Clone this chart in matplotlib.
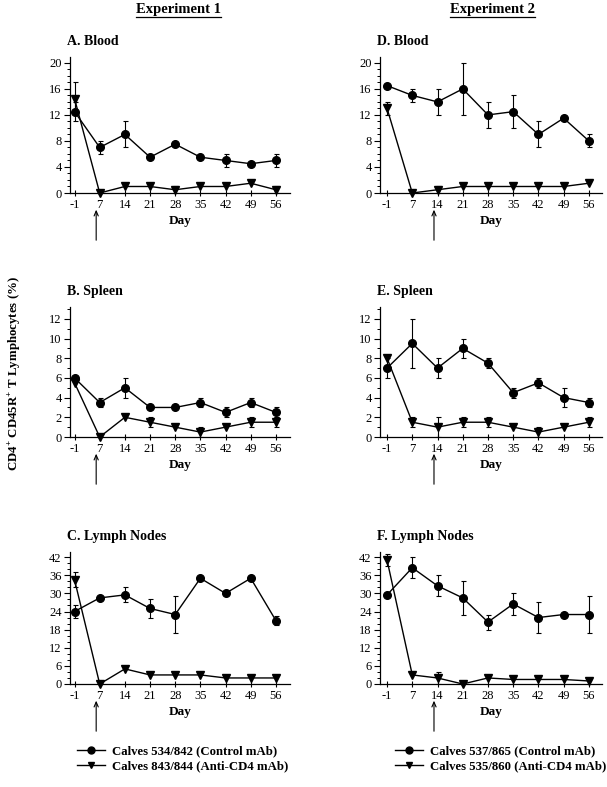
import numpy as np
import matplotlib
matplotlib.use('Agg')
import matplotlib.pyplot as plt
from matplotlib.lines import Line2D
from matplotlib.ticker import MultipleLocator
from matplotlib import transforms

plt.rcParams['font.family'] = ['Liberation Serif', 'DejaVu Serif']
plt.rcParams['mathtext.fontset'] = 'custom'
plt.rcParams['mathtext.rm'] = 'Liberation Serif:bold'
plt.rcParams['mathtext.bf'] = 'Liberation Serif:bold'

days = ['-1', '7', '14', '21', '28', '35', '42', '49', '56']

# Experiment 1 - blood
blood1_ctrl = [12.5, 7, 9, 5.5, 7.5, 5.5, 5, 4.5, 5]
blood1_ctrl_err = [1.5, 1, 2, 0, 0, 0, 1, 0, 1]
blood1_cd4 = [14.5, 0, 1, 1, 0.5, 1, 1, 1.5, 0.5]
blood1_cd4_err = [2.5, 0, 0, 0, 0.5, 0, 0, 0, 0.5]
# Experiment 1 - spleen
spleen1_ctrl = [6, 3.5, 5, 3, 3, 3.5, 2.5, 3.5, 2.5]
spleen1_ctrl_err = [0, 0.5, 1, 0, 0, 0.5, 0.5, 0.5, 0.5]
spleen1_cd4 = [5.5, 0, 2, 1.5, 1, 0.5, 1, 1.5, 1.5]
spleen1_cd4_err = [0, 0, 0, 0.5, 0, 0.5, 0, 0.5, 0.5]
# Experiment 1 - lymph nodes
lymph1_ctrl = [24, 28.5, 29.5, 25, 23, 35, 30, 35, 21]
lymph1_ctrl_err = [2, 0, 2.5, 3, 6, 0, 0, 0, 1.5]
lymph1_cd4 = [34.5, 0, 5, 3, 3, 3, 2, 2, 2]
lymph1_cd4_err = [2.5, 0, 0, 0, 0, 0, 0, 0, 0]

# Experiment 2 - blood
blood2_ctrl = [16.5, 15, 14, 16, 12, 12.5, 9, 11.5, 8]
blood2_ctrl_err = [0, 1, 2, 4, 2, 2.5, 2, 0, 1]
blood2_cd4 = [13, 0, 0.5, 1, 1, 1, 1, 1, 1.5]
blood2_cd4_err = [1, 0, 0.5, 0, 0, 0, 0, 0, 0]
# Experiment 2 - spleen
spleen2_ctrl = [7, 9.5, 7, 9, 7.5, 4.5, 5.5, 4, 3.5]
spleen2_ctrl_err = [1, 2.5, 1, 1, 0.5, 0.5, 0.5, 1, 0.5]
spleen2_cd4 = [8, 1.5, 1, 1.5, 1.5, 1, 0.5, 1, 1.5]
spleen2_cd4_err = [0, 0.5, 1, 0.5, 0.5, 0, 0.5, 0, 0.5]
# Experiment 2 - lymph nodes
lymph2_ctrl = [29.5, 38.5, 32.5, 28.5, 20.5, 26.5, 22, 23, 23]
lymph2_ctrl_err = [0, 3.5, 3.5, 5.5, 2.5, 3.5, 5, 0, 6]
lymph2_cd4 = [41, 3, 2, 0, 2, 1.5, 1.5, 1.5, 1]
lymph2_cd4_err = [2, 0, 2, 0, 0, 0, 0, 0, 0]

legend1 = ['Calves 534/842 (Control mAb)', 'Calves 843/844 (Anti-CD4 mAb)']
legend2 = ['Calves 537/865 (Control mAb)', 'Calves 535/860 (Anti-CD4 mAb)']

W, H = 607, 787
fig = plt.figure(figsize=(W / 100, H / 100), dpi=100)


def px_axes(x0, x1, top, bottom):
    return fig.add_axes([x0 / W, (H - bottom) / H, (x1 - x0) / W, (bottom - top) / H])


def draw_panel(ax, title, ctrl, ctrl_err, cd4, cd4_err, ymax, major, minor,
               xlim, arrow_x):
    x = np.arange(len(days))
    for y, e, m in [(ctrl, ctrl_err, 'o'), (cd4, cd4_err, 'v')]:
        y = np.asarray(y, float)
        e = np.asarray(e, float)
        has = e > 0
        ax.errorbar(x[has], y[has], yerr=e[has], fmt='none', ecolor='k',
                    elinewidth=0.8, capsize=1.8, capthick=0.8, zorder=2)
        ax.plot(x, y, color='k', lw=1.0, marker=m, ms=5.5 if m == 'o' else 5.2,
                clip_on=False, zorder=3)
    ax.set_xlim(*xlim)
    ax.set_ylim(0, ymax)
    ax.set_xticks(x)
    ax.set_xticklabels(days)
    ax.yaxis.set_major_locator(MultipleLocator(major))
    ax.yaxis.set_minor_locator(MultipleLocator(minor))
    for s in ['top', 'right']:
        ax.spines[s].set_visible(False)
    ax.spines['left'].set_linewidth(0.9)
    ax.spines['bottom'].set_linewidth(0.9)
    ax.tick_params(axis='y', direction='out', length=4, width=0.8,
                   labelsize=9, pad=2)
    ax.tick_params(axis='y', which='minor', direction='out', length=2,
                   width=0.7)
    ax.tick_params(axis='x', direction='inout', length=5, width=0.8,
                   labelsize=9, pad=2)
    ax.set_xlabel('Day', fontweight='bold', fontsize=9.5, labelpad=3)
    ax.annotate(title, xy=(0, 1), xycoords='axes fraction',
                xytext=(-2, 11), textcoords='offset points',
                ha='left', va='center', fontsize=10, fontweight='bold')
    tip = transforms.offset_copy(ax.get_xaxis_transform(), fig=fig,
                                 y=-10, units='points')
    tail = transforms.offset_copy(ax.get_xaxis_transform(), fig=fig,
                                  y=-36, units='points')
    ax.annotate('', xy=(arrow_x, 0), xycoords=tip,
                xytext=(arrow_x, 0), textcoords=tail,
                arrowprops=dict(arrowstyle='->,head_length=0.35,head_width=0.15',
                                color='k', lw=0.8))


rows = [(57, 193, 20.9, 4, 1), (307, 437, 13.2, 2, 1), (552, 684, 43.7, 6, 2)]
left_data = [('A. Blood', blood1_ctrl, blood1_ctrl_err, blood1_cd4, blood1_cd4_err),
             ('B. Spleen', spleen1_ctrl, spleen1_ctrl_err, spleen1_cd4, spleen1_cd4_err),
             ('C. Lymph Nodes', lymph1_ctrl, lymph1_ctrl_err, lymph1_cd4, lymph1_cd4_err)]
right_data = [('D. Blood', blood2_ctrl, blood2_ctrl_err, blood2_cd4, blood2_cd4_err),
              ('E. Spleen', spleen2_ctrl, spleen2_ctrl_err, spleen2_cd4, spleen2_cd4_err),
              ('F. Lymph Nodes', lymph2_ctrl, lymph2_ctrl_err, lymph2_cd4, lymph2_cd4_err)]

for (top, bottom, ymax, major, minor), ld, rd in zip(rows, left_data, right_data):
    axl = px_axes(70, 290, top, bottom)
    draw_panel(axl, *ld, ymax, major, minor, (-0.18, 8.56), 0.86)
    axr = px_axes(380, 602, top, bottom)
    draw_panel(axr, *rd, ymax, major, minor, (-0.28, 8.52), 1.86)

# headers
h1 = fig.text(178 / W, 1 - 9 / H, 'Experiment 1', ha='center', va='center',
              fontsize=10.5, fontweight='bold')
h2 = fig.text(492 / W, 1 - 9 / H, 'Experiment 2', ha='center', va='center',
              fontsize=10.5, fontweight='bold')

fig.text(15 / W, 1 - 373 / H,
         r'CD4$^{+}$ CD45R$^{+}$ T Lymphocytes (%)', rotation=90,
         ha='center', va='center', fontsize=9.3, fontweight='bold')

# legends
for labels, xpos in [(legend1, 77), (legend2, 395)]:
    handles = [Line2D([], [], color='k', lw=1.0, marker='o', ms=5),
               Line2D([], [], color='k', lw=1.0, marker='v', ms=5)]
    fig.legend(handles, labels, loc='upper left',
               bbox_to_anchor=(xpos / W, 1 - 745 / H), frameon=False,
               prop=dict(size=9.2, weight='bold'), handlelength=2.2,
               handletextpad=0.5, labelspacing=0.25, borderpad=0,
               borderaxespad=0)

# underline the headers
fig.canvas.draw()
r = fig.canvas.get_renderer()
for h in (h1, h2):
    bb = h.get_window_extent(r)
    yl = bb.y0 - 1
    fig.add_artist(Line2D([bb.x0 / W, bb.x1 / W], [yl / H, yl / H],
                          color='k', lw=0.9, transform=fig.transFigure))

fig.savefig('out.png', dpi=100)
